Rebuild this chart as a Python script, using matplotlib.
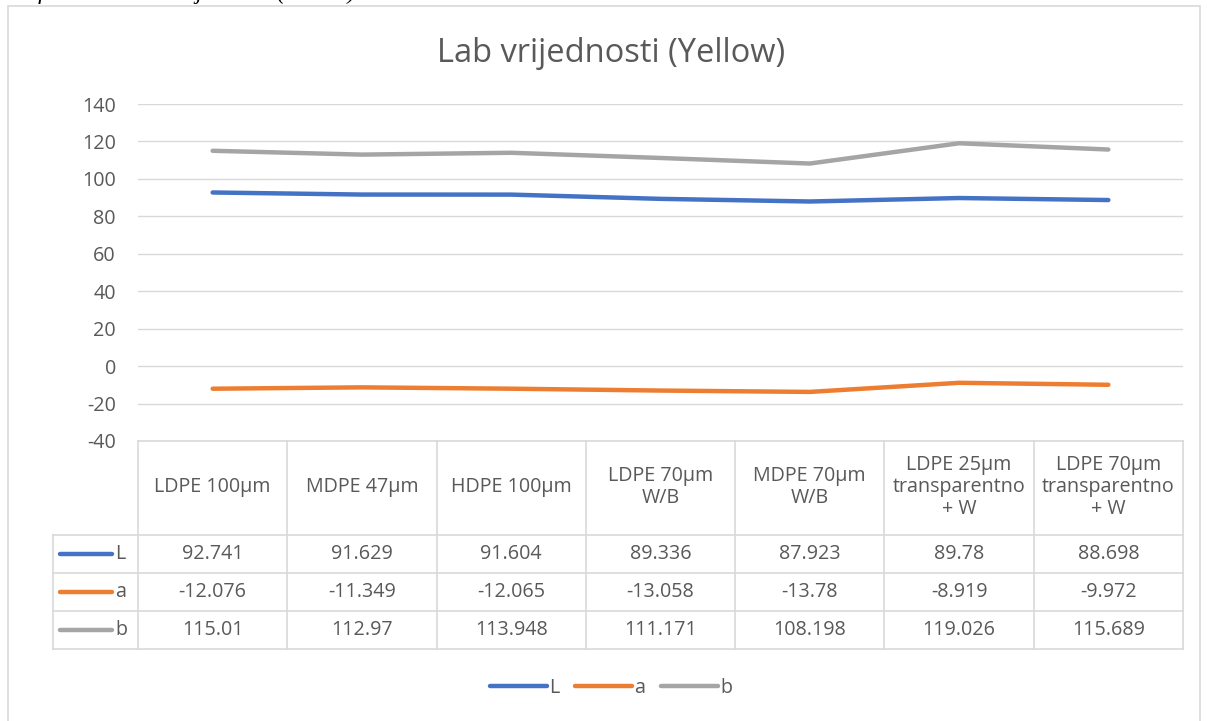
"""
Lab vrijednosti (Yellow) - linijski grafikon s tablicom podataka
"""

import matplotlib.pyplot as plt
from matplotlib.patches import Rectangle

categories = ["LDPE 100μm", "MDPE 47μm", "HDPE 100μm", "LDPE 70μm\nW/B",
              "MDPE 70μm\nW/B", "LDPE 25μm\ntransparentno\n+ W",
              "LDPE 70μm\ntransparentno\n+ W"]
L_vals = [92.741, 91.629, 91.604, 89.336, 87.923, 89.78, 88.698]
a_vals = [-12.076, -11.349, -12.065, -13.058, -13.78, -8.919, -9.972]
b_vals = [115.01, 112.97, 113.948, 111.171, 108.198, 119.026, 115.689]
series_names = ["L", "a", "b"]
colors = ["#4472C4", "#ED7D31", "#A5A5A5"]
yticks = [-40, -20, 0, 20, 40, 60, 80, 100, 120, 140]

plt.rcParams['font.family'] = ['Open Sans', 'DejaVu Sans']
plt.rcParams['axes.unicode_minus'] = False
txt = "#595959"
grid = "#d9d9d9"
fs = 14.2

W, H = 1207, 721
fig = plt.figure(figsize=(W / 100, H / 100), dpi=100)

# okvir grafikona
fig.patches.append(Rectangle((8 / W, -0.01), 1192 / W, 1 - 6 / H + 0.01,
                             transform=fig.transFigure, fill=False,
                             edgecolor=grid, lw=1.2))
fig.text(0.0, 1 + 0.5 / H, "Grafikon 10. Lab vrijednosti (Yellow)",
         family="Liberation Serif", style="italic", fontsize=17,
         va="baseline", ha="left", color="black")
fig.text(611 / W, 1 - 54 / H, "Lab vrijednosti (Yellow)", fontsize=23.5,
         color=txt, ha="center", va="center")

x0, x1 = 138, 1183
ax = fig.add_axes([x0 / W, 1 - 441 / H, (x1 - x0) / W, 337 / H])
n = len(categories)
xs = list(range(n))
for vals, c, name in zip([L_vals, a_vals, b_vals], colors, series_names):
    ax.plot(xs, vals, color=c, lw=3.2, solid_capstyle="round", label=name)
ax.set_xlim(-0.5, n - 0.5)
ax.set_ylim(-40, 140)
ax.set_yticks(yticks)
ax.yaxis.grid(True, color=grid, lw=1)
ax.set_axisbelow(True)
ax.tick_params(axis="y", length=0, labelsize=fs, labelcolor=txt, pad=16)
ax.set_xticks([])
for s in ax.spines.values():
    s.set_visible(False)

# tablica podataka
tab = fig.add_axes([x0 / W, 1 - 649 / H, (x1 - x0) / W, 208 / H], sharex=ax)
tab.set_ylim(649, 441)
tab.axis("off")
colw = (x1 - x0) / n
leg_left = -0.5 - (x0 - 53) / colw
row_y = [441, 535, 573, 611, 649]
lk = dict(color=grid, lw=1.2, clip_on=False)
tab.plot([-0.5, n - 0.5], [441, 441], **lk)
for y in row_y[1:]:
    tab.plot([leg_left, n - 0.5], [y, y], **lk)
for i in range(n + 1):
    tab.plot([i - 0.5, i - 0.5], [441, 649], **lk)
tab.plot([leg_left, leg_left], [535, 649], **lk)

for i, cat in enumerate(categories):
    tab.text(i, 487, cat, ha="center", va="center", fontsize=fs,
             color=txt, linespacing=1.12)
for r, (vals, c, name) in enumerate(zip([L_vals, a_vals, b_vals], colors,
                                        series_names)):
    yc = (row_y[r + 1] + row_y[r + 2]) / 2
    for i, v in enumerate(vals):
        tab.text(i, yc, str(v), ha="center", va="center", fontsize=fs,
                 color=txt)
    tab.plot([leg_left + 7 / colw, leg_left + 59 / colw], [yc, yc], color=c,
             lw=3.2, solid_capstyle="round", clip_on=False)
    tab.text(leg_left + 62 / colw, yc, name, ha="left", va="center",
             fontsize=fs, color=txt)

fig.legend(*ax.get_legend_handles_labels(), loc="center",
           bbox_to_anchor=(611 / W, 1 - 688 / H), ncol=3, frameon=False,
           fontsize=fs, labelcolor=txt, handlelength=2.9, handletextpad=0.1,
           columnspacing=0.8)

fig.savefig("out.png", dpi=100)
